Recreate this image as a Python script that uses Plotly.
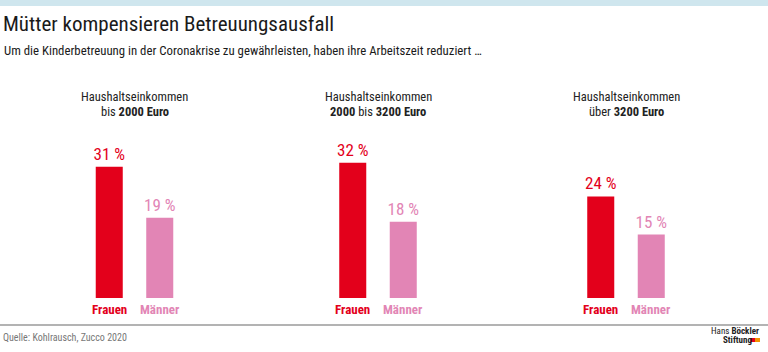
import plotly.graph_objects as go

categories = ["Frauen", "Männer"]
panel_line1 = ["Haushaltseinkommen", "Haushaltseinkommen", "Haushaltseinkommen"]
panel_line2 = ["bis <b>2000 Euro</b>", "<b>2000</b> bis <b>3200 Euro</b>", "über <b>3200 Euro</b>"]
values = [[31, 19], [32, 18], [24, 15]]
value_labels = [["31 %", "19 %"], ["32 %", "18 %"], ["24 %", "15 %"]]

title = "Mütter kompensieren Betreuungsausfall"
subtitle = "Um die Kinderbetreuung in der Coronakrise zu gewährleisten, haben ihre Arbeitszeit reduziert …"
source = "Quelle: Kohlrausch, Zucco 2020"

RED = "#e3001b"
PINK = "#e285b5"
colors = [RED, PINK]
FONT = "Roboto Condensed, DejaVu Sans Condensed, sans-serif"

W, H = 768, 352
def px(x): return x / W
def py(y): return 1 - y / H

centers = [134.5, 378, 626]
half = 50.5
y_base = 298
y_top = 298 - 35 * 4.23

fig = go.Figure()
layout = {}
annotations = []
for i in range(3):
    xa = "x" if i == 0 else f"x{i+1}"
    ya = "y" if i == 0 else f"y{i+1}"
    fig.add_trace(go.Bar(
        x=categories, y=values[i], marker=dict(color=colors, line=dict(width=0)),
        text=value_labels[i], textposition="outside", cliponaxis=False, constraintext="none",
        textfont=dict(family=FONT, size=17, color=colors),
        xaxis=xa, yaxis=ya, showlegend=False, hoverinfo="skip", width=0.535,
    ))
    xkey = "xaxis" if i == 0 else f"xaxis{i+1}"
    ykey = "yaxis" if i == 0 else f"yaxis{i+1}"
    layout[xkey] = dict(domain=[px(centers[i] - half), px(centers[i] + half)],
                        anchor=ya, showticklabels=False, showgrid=False,
                        zeroline=False, showline=False, fixedrange=True,
                        range=[-0.5, 1.5])
    layout[ykey] = dict(domain=[py(y_base), py(y_top)], anchor=xa, range=[0, 35],
                        visible=False, fixedrange=True)
    for j, c in enumerate(categories):
        annotations.append(dict(x=c, xref=xa, y=py(309), yref="paper",
                                text=f"<b>{c}</b>", showarrow=False,
                                font=dict(family=FONT, size=13, color=colors[j]),
                                xanchor="center", yanchor="middle"))
    annotations.append(dict(x=px(centers[i]), xref="paper", y=py(96), yref="paper",
                            text=panel_line1[i], showarrow=False,
                            font=dict(family=FONT, size=12.5, color="#222"),
                            xanchor="center", yanchor="middle"))
    annotations.append(dict(x=px(centers[i]), xref="paper", y=py(111), yref="paper",
                            text=panel_line2[i], showarrow=False,
                            font=dict(family=FONT, size=12.5, color="#222"),
                            xanchor="center", yanchor="middle"))

annotations += [
    dict(x=px(1), y=py(24), xref="paper", yref="paper", text=title, showarrow=False,
         xanchor="left", yanchor="middle", font=dict(family=FONT, size=21, color="#1a1a1a")),
    dict(x=px(2), y=py(50), xref="paper", yref="paper", text=subtitle, showarrow=False,
         xanchor="left", yanchor="middle", font=dict(family=FONT, size=12.8, color="#1a1a1a")),
    dict(x=px(1), y=py(337), xref="paper", yref="paper", text=source, showarrow=False,
         xanchor="left", yanchor="middle", font=dict(family=FONT, size=10, color="#777")),
    dict(x=px(761), y=py(331), xref="paper", yref="paper",
         text="Hans <b>Böckler</b>", showarrow=False,
         xanchor="right", yanchor="middle", font=dict(family=FONT, size=9, color="#222")),
    dict(x=px(721), y=py(340), xref="paper", yref="paper",
         text="<b>Stiftung</b>", showarrow=False,
         xanchor="left", yanchor="middle", font=dict(family=FONT, size=9, color="#222")),
]

shapes = [
    dict(type="rect", xref="paper", yref="paper", x0=0, x1=1, y0=py(6), y1=1,
         fillcolor="#cfe6ee", line=dict(width=0)),
    dict(type="line", xref="paper", yref="paper", x0=0, x1=1, y0=py(325), y1=py(325),
         line=dict(color="#9a9a9a", width=1.5)),
    dict(type="rect", xref="paper", yref="paper", x0=px(750), x1=px(755), y0=py(342), y1=py(338),
         fillcolor=RED, line=dict(width=0)),
    dict(type="rect", xref="paper", yref="paper", x0=px(755), x1=px(760), y0=py(342), y1=py(338),
         fillcolor="#f29100", line=dict(width=0)),
]

fig.update_layout(
    width=W, height=H, margin=dict(l=0, r=0, t=0, b=0),
    paper_bgcolor="white", plot_bgcolor="white",
    annotations=annotations, shapes=shapes, **layout,
)
fig.write_html("out.html")
